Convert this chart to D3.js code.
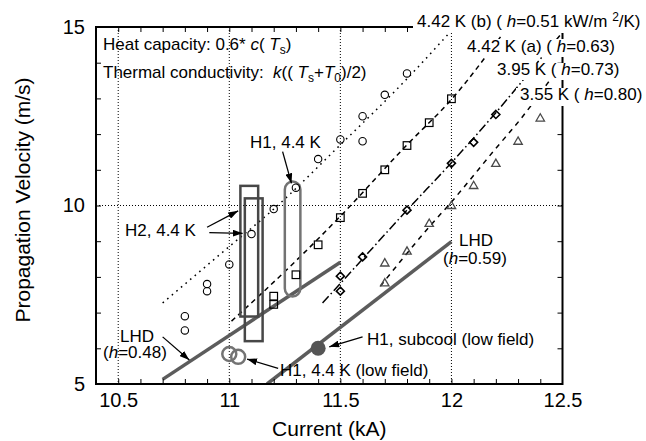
<!DOCTYPE html>
<meta charset="utf-8">
<title>Propagation Velocity vs Current</title>
<script src="https://d3js.org/d3.v7.min.js"></script>
<style>
body { margin:0; background:#fff; }
svg { font-family: "Liberation Sans", Arial, Helvetica, sans-serif; }
.grid line { stroke:#000; stroke-width:1; stroke-dasharray:1,2; }
.axis path, .axis line { stroke:#000; }
.axis path { display:none; }
.lbl { font-size:17px; fill:#000; white-space:pre; }
</style>
<svg width="646" height="441"></svg>
<script>
// measured points [current kA, velocity m/s]
var pts442b = [[10.8,6.5],[10.8,6.9],[10.9,7.6],[10.9,7.8],[11.0,8.35],[11.1,9.2],[11.2,9.9],
  [11.3,10.5],[11.4,11.3],[11.5,11.85],[11.6,11.8],[11.6,12.5],[11.7,13.1],[11.8,13.7]];
var pts442a = [[11.2,7.23],[11.2,7.46],[11.3,8.06],[11.4,8.9],[11.5,9.66],[11.6,10.34],
  [11.7,11.0],[11.8,11.68],[11.9,12.32],[12.0,12.99]];
var pts395 = [[11.5,7.6],[11.5,8.02],[11.6,8.56],[11.8,9.87],[12.0,11.18],[12.1,11.77],[12.2,12.55]];
var pts355 = [[11.7,7.83],[11.7,8.39],[11.8,8.72],[11.9,9.5],[12.0,10.0],[12.1,10.56],
  [12.2,11.18],[12.3,11.8],[12.4,12.45]];

// calculated curves
var calc442b = [[10.7,7.27],[11.0,8.85],[11.2,9.9],[11.5,11.7],[11.8,13.55],[11.99,14.83]];
var calc442a = [[11.01,6.76],[11.3,8.45],[11.5,9.7],[11.8,11.7],[12.0,12.97],[12.23,14.8]];
var calc395 = [[11.42,7.27],[11.6,8.5],[11.8,9.87],[12.0,11.2],[12.2,12.6],[12.4,14.1],[12.5,14.85]];
var calc355 = [[11.68,7.74],[11.9,9.4],[12.0,10.1],[12.2,11.6],[12.31,12.41],[12.43,13.4],[12.5,14.0]];

// LHD lines
var lhd048 = [[10.70,5.13],[11.5,8.41]];
var lhd059 = [[11.17,5.0],[12.0,8.99]];

// experiments (H1 / H2)
var h2Boxes = [[11.05,11.13,6.89,10.55],[11.07,11.15,6.20,10.20]];   // x0,x1,y0,y1
var h1Pill = [11.25,11.32,7.45,10.67];
var h1LowField = [[11.0,5.84],[11.04,5.76]];
var h1Subcool = [[11.40,6.0]];
var arrows = [
  [[11.24,11.51],[11.28,10.62]],
  [[10.90,9.39],[11.04,9.85]],
  [[10.91,9.24],[11.06,9.22]],
  [[10.70,6.32],[10.82,5.67]],
  [[11.60,6.32],[11.45,6.04]],
  [[11.22,5.44],[11.08,5.70]]
];

var xMajor = [10.5, 11, 11.5, 12, 12.5];
var yMajor = [5, 10, 15];
var xGrid = [10.5, 11, 11.5, 12];
var yGrid = [10];

var svg = d3.select("svg"),
    pL = 96, pR = 562.5, pT = 27, pB = 384;

var x = d3.scaleLinear().domain([10.4, 12.5]).range([pL, pR]),
    y = d3.scaleLinear().domain([5, 15]).range([pB, pT]);

var defs = svg.append("defs");
defs.append("clipPath").attr("id", "clip")
  .append("rect").attr("x", pL).attr("y", pT)
  .attr("width", pR - pL).attr("height", pB - pT);

defs.append("marker")
    .attr("id", "head")
    .attr("markerUnits", "userSpaceOnUse")
    .attr("viewBox", "0 0 10 7")
    .attr("refX", 10).attr("refY", 3.5)
    .attr("markerWidth", 10).attr("markerHeight", 7)
    .attr("orient", "auto")
  .append("path").attr("d", "M0,0L10,3.5L0,7z").attr("fill", "#000");

// grid
var grid = svg.append("g").attr("class", "grid");
grid.selectAll(".gx").data(xGrid).enter().append("line")
    .attr("x1", function(d) { return x(d); }).attr("x2", function(d) { return x(d); })
    .attr("y1", pT).attr("y2", pB);
grid.selectAll(".gy").data(yGrid).enter().append("line")
    .attr("y1", function(d) { return y(d); }).attr("y2", function(d) { return y(d); })
    .attr("x1", pL).attr("x2", pR);

var plot = svg.append("g").attr("clip-path", "url(#clip)");
var line = d3.line().x(function(d) { return x(d[0]); }).y(function(d) { return y(d[1]); });
var curve = d3.line().curve(d3.curveMonotoneX)
    .x(function(d) { return x(d[0]); }).y(function(d) { return y(d[1]); });

// LHD
[lhd048, lhd059].forEach(function(l) {
  plot.append("path").attr("d", line(l))
    .attr("fill", "none").attr("stroke", "#5c5c5c").attr("stroke-width", 3.5);
});

// calculated curves
[[calc442b, "1.6,4.4"], [calc442a, "5,4"], [calc395, "9,3,1.6,3"], [calc355, "5,5"]].forEach(function(c) {
  plot.append("path").attr("d", curve(c[0]))
    .attr("fill", "none").attr("stroke", "#000").attr("stroke-width", 1.5)
    .attr("stroke-dasharray", c[1]);
});

// H2 boxes and H1 pill
plot.selectAll(".h2").data(h2Boxes).enter().append("rect")
    .attr("x", function(d) { return x(d[0]); })
    .attr("y", function(d) { return y(d[3]); })
    .attr("width", function(d) { return x(d[1]) - x(d[0]); })
    .attr("height", function(d) { return y(d[2]) - y(d[3]); })
    .attr("fill", "none").attr("stroke", "#474747").attr("stroke-width", 2.5);

plot.append("rect")
    .attr("x", x(h1Pill[0])).attr("y", y(h1Pill[3]))
    .attr("width", x(h1Pill[1]) - x(h1Pill[0]))
    .attr("height", y(h1Pill[2]) - y(h1Pill[3]))
    .attr("rx", 8).attr("ry", 8)
    .attr("fill", "none").attr("stroke", "#737373").attr("stroke-width", 2.5);

plot.selectAll(".lf").data(h1LowField).enter().append("circle")
    .attr("cx", function(d) { return x(d[0]); }).attr("cy", function(d) { return y(d[1]); })
    .attr("r", 7).attr("fill", "none").attr("stroke", "#737373").attr("stroke-width", 2.5);

plot.selectAll(".sc").data(h1Subcool).enter().append("circle")
    .attr("cx", function(d) { return x(d[0]); }).attr("cy", function(d) { return y(d[1]); })
    .attr("r", 7.5).attr("fill", "#555");

// symbols
plot.selectAll(".c").data(pts442b).enter().append("circle")
    .attr("cx", function(d) { return x(d[0]); }).attr("cy", function(d) { return y(d[1]); })
    .attr("r", 3.7).attr("fill", "none").attr("stroke", "#000").attr("stroke-width", 1.1);
plot.selectAll(".s").data(pts442a).enter().append("rect")
    .attr("x", function(d) { return x(d[0]) - 3.8; }).attr("y", function(d) { return y(d[1]) - 3.8; })
    .attr("width", 7.6).attr("height", 7.6)
    .attr("fill", "none").attr("stroke", "#000").attr("stroke-width", 1.2);
plot.selectAll(".d").data(pts395).enter().append("path")
    .attr("transform", function(d) { return "translate(" + x(d[0]) + "," + y(d[1]) + ")"; })
    .attr("d", "M0,-4L4,0L0,4L-4,0Z")
    .attr("fill", "none").attr("stroke", "#000").attr("stroke-width", 1.6);
plot.selectAll(".t").data(pts355).enter().append("path")
    .attr("transform", function(d) { return "translate(" + x(d[0]) + "," + y(d[1]) + ")"; })
    .attr("d", "M0,-4.3L4.2,3L-4.2,3Z")
    .attr("fill", "none").attr("stroke", "#4a4a4a").attr("stroke-width", 1.3);

// arrows
svg.selectAll(".arr").data(arrows).enter().append("line")
    .attr("x1", function(d) { return x(d[0][0]); }).attr("y1", function(d) { return y(d[0][1]); })
    .attr("x2", function(d) { return x(d[1][0]); }).attr("y2", function(d) { return y(d[1][1]); })
    .attr("stroke", "#000").attr("stroke-width", 1.3)
    .attr("marker-end", "url(#head)");

// axes: inward minor ticks on all four sides
var xMinor = d3.range(10.5, 12.45, 0.1), yMinor = d3.range(6, 15, 1);
function ticks(axis, vals, len) { return axis.tickValues(vals).tickSize(-len).tickFormat(""); }
svg.append("g").attr("class", "axis").attr("transform", "translate(0," + pB + ")")
    .call(ticks(d3.axisBottom(x), xMinor, 5));
svg.append("g").attr("class", "axis").attr("transform", "translate(0," + pT + ")")
    .call(ticks(d3.axisTop(x), xMinor, 5));
svg.append("g").attr("class", "axis").attr("transform", "translate(" + pL + ",0)")
    .call(ticks(d3.axisLeft(y), yMinor, 5));
svg.append("g").attr("class", "axis").attr("transform", "translate(" + pR + ",0)")
    .call(ticks(d3.axisRight(y), yMinor, 5));

svg.append("g").attr("class", "axis").attr("transform", "translate(0," + pB + ")")
    .call(d3.axisBottom(x).tickValues(xMajor).tickSize(0).tickPadding(9).tickFormat(d3.format("")))
    .selectAll("text").attr("font-size", 20).attr("font-family", null);
svg.append("g").attr("class", "axis").attr("transform", "translate(" + pL + ",0)")
    .call(d3.axisLeft(y).tickValues(yMajor).tickSize(0).tickPadding(11))
    .selectAll("text").attr("font-size", 20).attr("font-family", null);

svg.append("rect").attr("x", pL).attr("y", pT)
    .attr("width", pR - pL).attr("height", pB - pT)
    .attr("fill", "none").attr("stroke", "#000").attr("stroke-width", 2);

svg.append("text").attr("x", (pL + pR) / 2).attr("y", 436)
    .attr("text-anchor", "middle").attr("font-size", 21).text("Current (kA)");
svg.append("text").attr("transform", "translate(30,200) rotate(-90)")
    .attr("text-anchor", "middle").attr("font-size", 21).text("Propagation Velocity (m/s)");

// text helper: parts = [text, style]; style: i italic, sub/unsub, sup/unsup
function rich(px, py, parts, box) {
  var g = svg.append("g");
  if (box) g.append("rect").attr("x", box[0]).attr("y", box[1])
      .attr("width", box[2]).attr("height", box[3]).attr("fill", "#fff");
  var t = g.append("text").attr("class", "lbl").attr("x", px).attr("y", py);
  parts.forEach(function(p) {
    var s = t.append("tspan").text(p[0]);
    if (p[1] === "i") s.attr("font-style", "italic");
    if (p[1] === "sub") s.attr("font-size", 12).attr("dy", 4);
    if (p[1] === "unsub") s.attr("dy", -4);
    if (p[1] === "sup") s.attr("font-size", 12).attr("dy", -6);
    if (p[1] === "unsup") s.attr("dy", 6);
  });
  return t;
}

rich(103, 50, [["Heat capacity: 0.6* "], ["c", "i"], ["( "], ["T", "i"], ["s", "sub"], [")", "unsub"]]);
rich(103, 78, [["Thermal conductivity:  "], ["k", "i"], ["(( "], ["T", "i"], ["s", "sub"], ["+", "unsub"],
  ["T", "i"], ["0", "sub"], [")/2)", "unsub"]]);

rich(417, 27, [["4.42 K (b) ( "], ["h", "i"], ["=0.51 kW/m "], ["2", "sup"], ["/K)", "unsup"]], [413, 10, 233, 23]);
rich(467, 52, [["4.42 K (a) ( "], ["h", "i"], ["=0.63)"]], [463, 39, 165, 18]);
rich(497, 75, [["3.95 K ( "], ["h", "i"], ["=0.73)"]], [493, 63, 135, 17]);
rich(520, 100, [["3.55 K ( "], ["h", "i"], ["=0.80)"]], [516, 88, 130, 18]);

rich(250, 148, [["H1, 4.4 K"]]);
rich(125, 236, [["H2, 4.4 K"]]);
rich(459, 246, [["LHD"]]);
rich(443, 264, [["("], ["h", "i"], ["=0.59)"]]);
rich(120, 342, [["LHD"]]);
rich(103, 358, [["("], ["h", "i"], ["=0.48)"]]);
rich(367, 345, [["H1, subcool (low field)"]]);
rich(280, 376, [["H1, 4.4 K (low field)"]]);
</script>
